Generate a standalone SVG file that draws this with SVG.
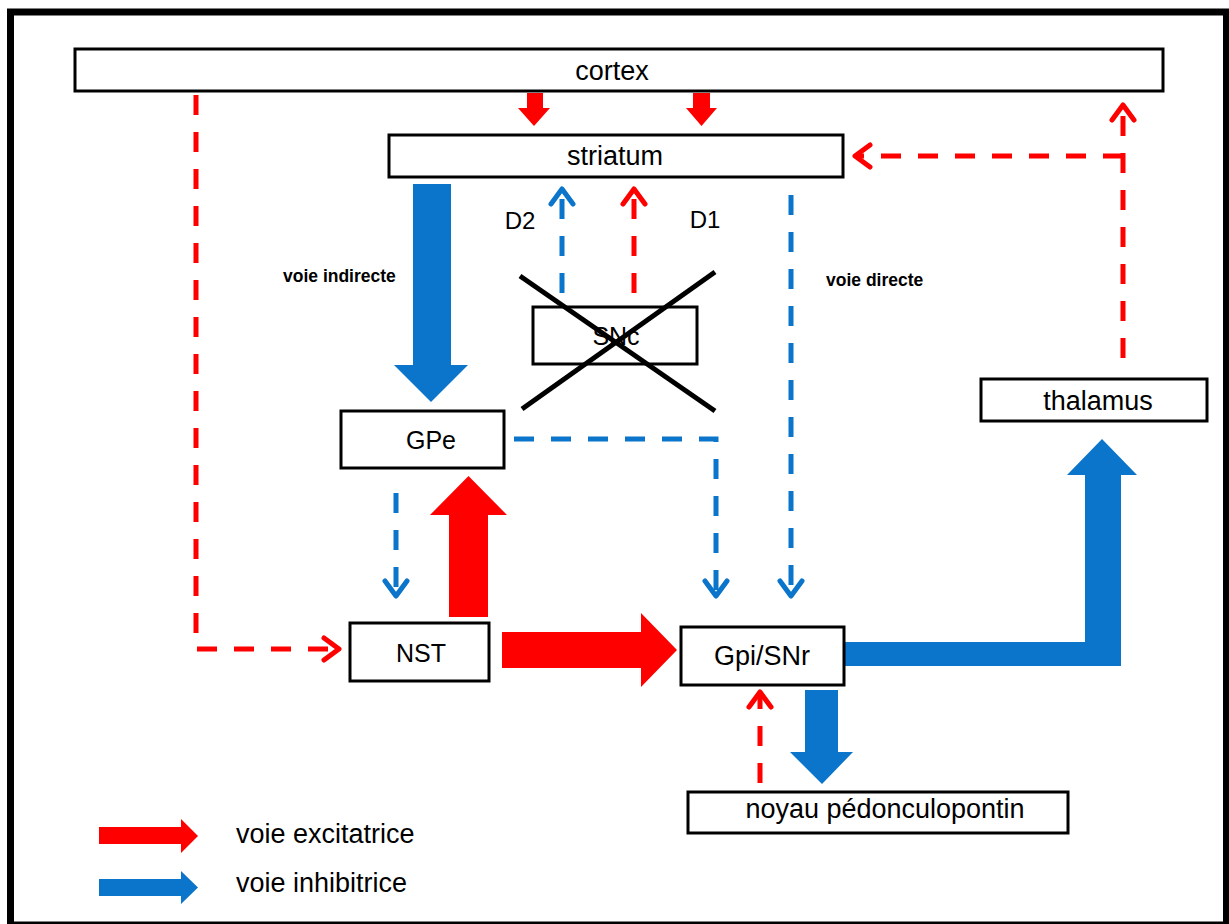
<svg xmlns="http://www.w3.org/2000/svg" width="1229" height="924" viewBox="0 0 1229 924">
<style>
.box{fill:#fff;stroke:#000;stroke-width:3}
.t{font-family:"Liberation Sans",Arial,sans-serif;font-size:27px;fill:#000;text-anchor:middle}
.u{font-size:25px}
.d{font-size:24px}
.b{font-family:"Liberation Sans",Arial,sans-serif;font-size:17.5px;font-weight:bold;fill:#000}
.rd{fill:none;stroke:#FF0000;stroke-width:5;stroke-dasharray:20 17}
.bd{fill:none;stroke:#0A75CA;stroke-width:5;stroke-dasharray:20 17}
.rf{fill:#FF0000}
.bf{fill:#0A75CA}
</style>
<defs>
<marker id="ar" markerUnits="userSpaceOnUse" markerWidth="40" markerHeight="40" viewBox="-20 -20 40 40" refX="0" refY="0" orient="auto">
<path d="M-15,-11 L0,0 L-15,11" fill="none" stroke="#FF0000" stroke-width="5" stroke-linecap="round" stroke-linejoin="round"/>
</marker>
<marker id="ab" markerUnits="userSpaceOnUse" markerWidth="40" markerHeight="40" viewBox="-20 -20 40 40" refX="0" refY="0" orient="auto">
<path d="M-15,-11 L0,0 L-15,11" fill="none" stroke="#0A75CA" stroke-width="5" stroke-linecap="round" stroke-linejoin="round"/>
</marker>
</defs>
<rect x="0" y="0" width="1229" height="924" fill="#fff"/>
<rect x="10.5" y="12" width="1216" height="913" fill="none" stroke="#000" stroke-width="7"/>

<g id="connectors">
<path class="rd" d="M196,95 V649 H339" marker-end="url(#ar)"/>
<path class="bd" d="M562,293 V189" marker-end="url(#ab)"/>
<path class="rd" d="M634,293 V189" marker-end="url(#ar)"/>
<path class="bd" d="M514,439 H716 V596" marker-end="url(#ab)"/>
<path class="bd" d="M791,195 V596" marker-end="url(#ab)"/>
<path class="bd" d="M396,493 V596" marker-end="url(#ab)"/>
<path class="rd" d="M1123,358 V105" marker-end="url(#ar)"/>
<path class="rd" d="M1123,156 H855" marker-end="url(#ar)"/>
<path class="rd" d="M760,783 V692" marker-end="url(#ar)"/>
<polygon class="rf" points="527,93 543,93 543,108 550,108 534,126 518,108 527,108"/>
<polygon class="rf" points="693,93 710,93 710,108 717,108 701.5,126 686,108 693,108"/>
<polygon class="bf" points="413,184 451,184 451,365 468,365 431,402 394,365 413,365"/>
<polygon class="rf" points="449,617 488,617 488,515 507,515 468.5,476 430,515 449,515"/>
<polygon class="rf" points="502,632 641,632 641,613 677,650 641,687 641,668 502,668"/>
<polygon class="bf" points="844,642 1085,642 1085,475 1067,475 1102,439 1137,475 1121,475 1121,666 844,666"/>
<polygon class="bf" points="805,690 838,690 838,752 853,752 822,784 790,752 805,752"/>
</g>

<g id="cortex"><rect class="box" x="75" y="49" width="1088" height="42"/><text class="t" x="612" y="80">cortex</text></g>
<g id="striatum"><rect class="box" x="389" y="135" width="454" height="42"/><text class="t" x="615" y="165">striatum</text></g>
<g id="SNc"><rect class="box" x="533" y="307" width="164" height="57"/><text class="t u" x="616" y="345">SNc</text>
<line x1="520" y1="276" x2="715" y2="411" stroke="#000" stroke-width="5"/>
<line x1="522" y1="409" x2="715" y2="272" stroke="#000" stroke-width="5"/></g>
<g id="GPe"><rect class="box" x="341" y="411" width="163" height="57"/><text class="t u" x="431" y="449">GPe</text></g>
<g id="NST"><rect class="box" x="350" y="623" width="139" height="58"/><text class="t u" x="421" y="662">NST</text></g>
<g id="GpiSNr"><rect class="box" x="681" y="627" width="163" height="58"/><text class="t" x="762" y="665">Gpi/SNr</text></g>
<g id="thalamus"><rect class="box" x="981" y="379" width="226" height="42"/><text class="t" x="1098" y="410">thalamus</text></g>
<g id="noyau"><rect class="box" x="688" y="792" width="380" height="41"/><text class="t" x="885" y="818">noyau pédonculopontin</text></g>

<g id="labels">
<text class="t d" x="520" y="229">D2</text>
<text class="t d" x="705" y="228">D1</text>
<text class="b" x="283" y="282">voie indirecte</text>
<text class="b" x="826" y="286">voie directe</text>
</g>

<g id="legend">
<polygon class="rf" points="99,827 181,827 181,819 198,836 181,853 181,844 99,844"/>
<text class="t" x="236" y="843" style="text-anchor:start">voie excitatrice</text>
<polygon class="bf" points="99,879 181,879 181,871 198,887.5 181,904 181,896 99,896"/>
<text class="t" x="236" y="892" style="text-anchor:start">voie inhibitrice</text>
</g>
</svg>
